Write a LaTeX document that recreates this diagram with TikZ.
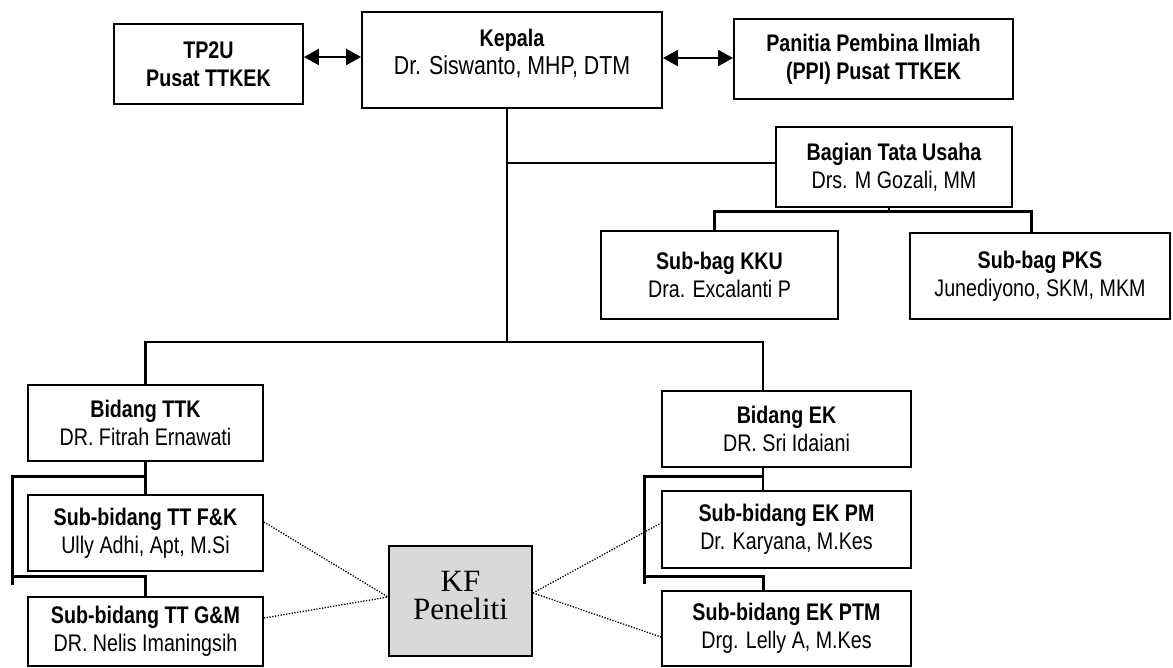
\documentclass[tikz,border=0pt]{standalone}
\usepackage{fontspec}
\setmainfont{Liberation Sans}[FakeStretch=0.82]
\newfontfamily\timesf{Liberation Serif}
\usetikzlibrary{arrows.meta}
\begin{document}
\begin{tikzpicture}[x=1pt,y=-1pt,
  box/.style={draw=black, line width=1.9pt, fill=white, align=center, inner sep=0pt,
    font=\fontsize{24}{28}\selectfont},
  kfbox/.style={draw=black, line width=1.9pt, fill=kfgray, align=center, inner sep=0pt,
    font=\timesf\fontsize{31}{28}\selectfont},
  conn/.style={line width=2.1pt},
  tconn/.style={line width=3pt},
  dotline/.style={line width=1.3pt, dash pattern=on 1.3pt off 1.5pt},
  dbl/.style={line width=2.2pt, {Triangle[length=15pt,width=16pt]}-{Triangle[length=15pt,width=16pt]}}
]
\definecolor{kfgray}{RGB}{217,217,217}
\useasboundingbox (0,0) rectangle (1173,668);

% top row
\node[box, minimum width=189pt, minimum height=80pt] (tp2u) at (208.5,64)
  {\textbf{TP2U}\\\textbf{Pusat TTKEK}};
\node[box, minimum width=300pt, minimum height=96pt, text depth=16pt] (kepala) at (512,60)
  {\textbf{Kepala}\\{\fontsize{26}{28}\selectfont Dr. Siswanto, MHP, DTM}};
\node[box, minimum width=279pt, minimum height=80pt] (ppi) at (873.5,59)
  {\textbf{Panitia Pembina Ilmiah}\\\textbf{(PPI) Pusat TTKEK}};

% tata usaha
\node[box, minimum width=236pt, minimum height=80pt] (bagian) at (894,167)
  {\textbf{Bagian Tata Usaha}\\Drs. M Gozali, MM};
\node[box, minimum width=237pt, minimum height=88pt] (kku) at (719.5,275)
  {\textbf{Sub-bag KKU}\\Dra. Excalanti P};
\node[box, minimum width=260pt, minimum height=86pt] (pks) at (1040,276)
  {\textbf{Sub-bag PKS}\\Junediyono, SKM, MKM};

% bidang TTK
\node[box, minimum width=235pt, minimum height=76pt] (ttk) at (145.5,423)
  {\textbf{Bidang TTK}\\DR. Fitrah Ernawati};
\node[box, minimum width=235pt, minimum height=76pt] (tfk) at (145.5,533)
  {\textbf{Sub-bidang TT F\&K}\\Ully Adhi, Apt, M.Si};
\node[box, minimum width=235pt, minimum height=69pt] (tgm) at (145.5,631.5)
  {\textbf{Sub-bidang TT G\&M}\\DR. Nelis Imaningsih};

% bidang EK
\node[box, minimum width=249pt, minimum height=76pt] (ek) at (786.5,429)
  {\textbf{Bidang EK}\\DR. Sri Idaiani};
\node[box, minimum width=249pt, minimum height=77pt] (ekpm) at (786.5,529.5)
  {\textbf{Sub-bidang EK PM}\\Dr. Karyana, M.Kes};
\node[box, minimum width=249pt, minimum height=75pt] (ekptm) at (786.5,628.5)
  {\textbf{Sub-bidang EK PTM}\\Drg. Lelly A, M.Kes};

% KF
\node[kfbox, minimum width=143pt, minimum height=110pt, text depth=12pt] (kf) at (460.5,601)
  {KF\\Peneliti};

% arrows
\draw[dbl] ([yshift=7pt]tp2u.east) -- ([yshift=7pt]tp2u.east -| kepala.west);
\draw[dbl] ([yshift=1pt]ppi.west -| kepala.east) -- ([yshift=1pt]ppi.west);

% trunk
\coordinate (tk) at ([xshift=-5pt]kepala.south);
\coordinate (hj) at (0,342);
\coordinate (bw) at ([yshift=4pt]bagian.west);
\draw[conn] (tk) -- (tk |- hj);
\draw[conn] (tk |- bw) -- (bw);
\coordinate (ekN) at ([xshift=-23.5pt]ek.north);
\draw[conn] (ttk.north) -- (ttk.north |- hj) -- (ekN |- hj) -- (ekN);

% tata usaha branches
\coordinate (bagB) at ([xshift=-5pt]bagian.south);
\coordinate (bh) at (0,212);
\coordinate (kkuT) at ([xshift=-5.5pt]kku.north);
\coordinate (pksT) at ([xshift=-9pt]pks.north);
\draw[conn] (bagB) -- (bagB |- bh);
\draw[tconn] (kkuT) -- (kkuT |- bh) -- (pksT |- bh) -- (pksT);

% TTK bracket
\coordinate (l1) at (12,476);
\coordinate (l2) at (12,576);
\coordinate (l3) at (12,585);
\draw[conn] (ttk.south) -- (tfk.north);
\draw[tconn] (ttk.south |- l1) -- (l1) -- (l3);
\draw[tconn] (l2) -- (l2 -| tgm.north) -- (tgm.north);

% EK bracket
\coordinate (ekS) at ([xshift=-23.5pt]ek.south);
\coordinate (ekpmN) at ([xshift=-23.5pt]ekpm.north);
\coordinate (ekptmN) at ([xshift=-23.5pt]ekptm.north);
\coordinate (r1) at (644,476);
\coordinate (r2) at (644,576);
\coordinate (r3) at (644,584);
\draw[conn] (ekS) -- (ekpmN);
\draw[tconn] (ekS |- r1) -- (r1) -- (r3);
\draw[tconn] (r2) -- (r2 -| ekptmN) -- (ekptmN);

% dotted links
\draw[dotline] ([yshift=11pt]tfk.east) -- ([yshift=4pt]kf.west);
\draw[dotline] ([yshift=13.5pt]tgm.east) -- ([yshift=4pt]kf.west);
\draw[dotline] ([yshift=8pt]kf.east) -- ([yshift=6.5pt]ekpm.west);
\draw[dotline] ([yshift=8pt]kf.east) -- ([yshift=-8.5pt]ekptm.west);
\end{tikzpicture}
\end{document}
